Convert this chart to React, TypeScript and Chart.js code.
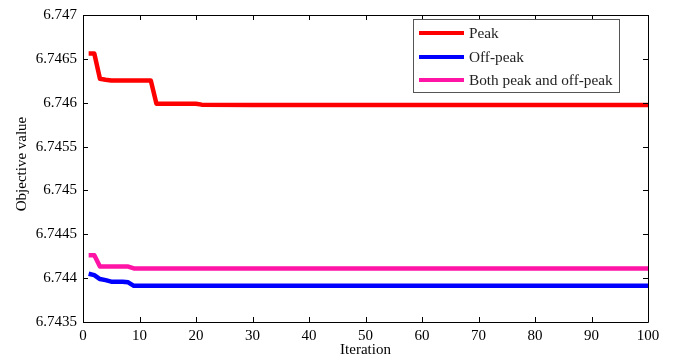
import React, { useEffect, useRef } from "react";
import { Chart, registerables } from "chart.js";

Chart.register(...registerables);

const seriesLabels = ["Peak", "Off-peak", "Both peak and off-peak"];
const seriesColors = ["#ff0000", "#0000ff", "#ff14a5"];

const peakIterations = [1, 2, 3, 4, 5, 12, 13, 20, 21, 30, 100];
const peakValues = [6.74656, 6.74656, 6.746273, 6.746262, 6.746253, 6.746253, 6.745989, 6.745989, 6.745978, 6.745975, 6.745975];

const offPeakIterations = [1, 2, 3, 4, 5, 7, 8, 9, 100];
const offPeakValues = [6.74405, 6.744034, 6.74399, 6.743977, 6.74396, 6.74396, 6.743952, 6.743912, 6.743912];

const bothIterations = [1, 2, 3, 8, 9, 100];
const bothValues = [6.744262, 6.744262, 6.744132, 6.744132, 6.74411, 6.74411];

const xTicks = [0, 10, 20, 30, 40, 50, 60, 70, 80, 90, 100];
const yTicks = [6.7435, 6.744, 6.7445, 6.745, 6.7455, 6.746, 6.7465, 6.747];

const xTitle = "Iteration";
const yTitle = "Objective value";

const FONT = "'Liberation Serif', 'Times New Roman', serif";

const toPoints = (xs: number[], ys: number[]) => xs.map((x, i) => ({ x, y: ys[i] }));

const framePlugin = {
  id: "frame",
  afterDatasetsDraw(chart: any) {
    const { ctx, chartArea } = chart;
    const { left, right, top, bottom } = chartArea;
    const xs = chart.scales.x;
    const ys = chart.scales.y;
    const tl = 5;
    ctx.save();
    ctx.strokeStyle = "#000";
    ctx.lineWidth = 1;
    ctx.beginPath();
    ctx.rect(Math.round(left) + 0.5, Math.round(top) + 0.5, Math.round(right - left), Math.round(bottom - top));
    xTicks.forEach((v) => {
      const px = Math.round(xs.getPixelForValue(v)) + 0.5;
      ctx.moveTo(px, bottom);
      ctx.lineTo(px, bottom - tl);
      ctx.moveTo(px, top);
      ctx.lineTo(px, top + tl);
    });
    yTicks.forEach((v) => {
      const py = Math.round(ys.getPixelForValue(v)) + 0.5;
      ctx.moveTo(left, py);
      ctx.lineTo(left + tl, py);
      ctx.moveTo(right, py);
      ctx.lineTo(right - tl, py);
    });
    ctx.stroke();

    // y-axis title
    ctx.save();
    ctx.translate(22, 164);
    ctx.rotate(-Math.PI / 2);
    ctx.fillStyle = "#000";
    ctx.font = `15px ${FONT}`;
    ctx.textAlign = "center";
    ctx.textBaseline = "middle";
    ctx.fillText(yTitle, 0, 0);
    ctx.restore();

    // legend
    const bx = 413.5, by = 19.5, bw = 206, bh = 73;
    ctx.fillStyle = "#fff";
    ctx.fillRect(bx, by, bw, bh);
    ctx.strokeStyle = "#555";
    ctx.lineWidth = 1;
    ctx.strokeRect(bx, by, bw, bh);
    const rows = [33, 57, 80];
    chart.data.datasets.forEach((ds: any, i: number) => {
      const y = rows[i];
      ctx.strokeStyle = ds.borderColor;
      ctx.lineWidth = 4;
      ctx.beginPath();
      ctx.moveTo(419, y);
      ctx.lineTo(464, y);
      ctx.stroke();
      ctx.fillStyle = "#222";
      ctx.font = `15.3px ${FONT}`;
      ctx.textBaseline = "middle";
      ctx.textAlign = "left";
      ctx.fillText(ds.label, 469, y + 1);
    });
    ctx.restore();
  },
};

export default function App() {
  const canvasRef = useRef<HTMLCanvasElement | null>(null);

  useEffect(() => {
    const canvas = canvasRef.current;
    if (!canvas) return;
    const chart = new Chart(canvas, {
      type: "line",
      data: {
        datasets: [
          { label: seriesLabels[0], data: toPoints(peakIterations, peakValues), borderColor: seriesColors[0] },
          { label: seriesLabels[1], data: toPoints(offPeakIterations, offPeakValues), borderColor: seriesColors[1] },
          { label: seriesLabels[2], data: toPoints(bothIterations, bothValues), borderColor: seriesColors[2] },
        ].map((d) => ({
          ...d,
          borderWidth: 4.5,
          pointRadius: 0,
          tension: 0,
          fill: false,
          borderJoinStyle: "round" as const,
          borderCapStyle: "butt" as const,
        })),
      },
      options: {
        responsive: false,
        animation: false,
        devicePixelRatio: 1,
        layout: { padding: { left: 0, right: 25, top: 15, bottom: 0 } },
        plugins: {
          legend: { display: false },
          tooltip: { enabled: false },
        },
        scales: {
          x: {
            type: "linear",
            min: 0,
            max: 100,
            afterBuildTicks: (s: any) => {
              s.ticks = xTicks.map((v) => ({ value: v }));
            },
            afterFit: (s: any) => {
              s.height = 34;
            },
            grid: { display: false, drawTicks: false },
            border: { display: false },
            ticks: {
              color: "#000",
              font: { family: FONT, size: 15 },
              padding: 5,
              maxRotation: 0,
              autoSkip: false,
            },
            title: {
              display: true,
              text: xTitle,
              color: "#000",
              font: { family: FONT, size: 15 },
              padding: { top: 0, bottom: -3 },
            },
          },
          y: {
            type: "linear",
            min: 6.7435,
            max: 6.747,
            afterBuildTicks: (s: any) => {
              s.ticks = yTicks.map((v) => ({ value: v }));
            },
            afterFit: (s: any) => {
              s.width = 83;
            },
            grid: { display: false, drawTicks: false },
            border: { display: false },
            ticks: {
              color: "#000",
              font: { family: FONT, size: 15 },
              padding: 6,
              autoSkip: false,
              callback: (v: any) => String(Number(v)),
            },
            title: { display: false },
          },
        },
      },
      plugins: [framePlugin],
    });
    return () => chart.destroy();
  }, []);

  return (
    <div style={{ position: "absolute", left: 0, top: 0, width: 673, height: 356, background: "#fff" }}>
      <canvas ref={canvasRef} width={673} height={356} style={{ display: "block", width: 673, height: 356 }} />
    </div>
  );
}
